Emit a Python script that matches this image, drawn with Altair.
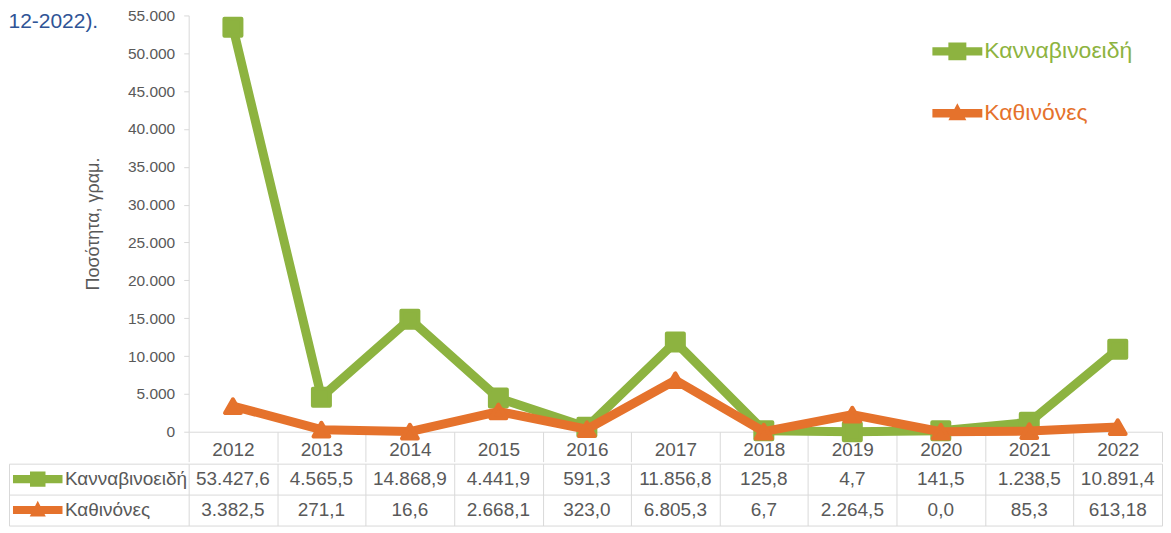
import altair as alt
import pandas as pd

years = ["2012", "2013", "2014", "2015", "2016", "2017", "2018", "2019", "2020", "2021", "2022"]
series_names = ["Κανναβινοειδή", "Καθινόνες"]
cannabis = [53427.6, 4565.5, 14868.9, 4441.9, 591.3, 11856.8, 125.8, 4.7, 141.5, 1238.5, 10891.4]
cathinones = [3382.5, 271.1, 16.6, 2668.1, 323.0, 6805.3, 6.7, 2264.5, 0.0, 85.3, 613.18]
cannabis_text = ["53.427,6", "4.565,5", "14.868,9", "4.441,9", "591,3", "11.856,8",
                 "125,8", "4,7", "141,5", "1.238,5", "10.891,4"]
cathinones_text = ["3.382,5", "271,1", "16,6", "2.668,1", "323,0", "6.805,3",
                   "6,7", "2.264,5", "0,0", "85,3", "613,18"]
y_ticks = list(range(0, 55001, 5000))
colors = ["#8DB340", "#E5722C"]
caption = "12-2022)."

rows = []
for name, vals, texts in [(series_names[0], cannabis, cannabis_text),
                          (series_names[1], cathinones, cathinones_text)]:
    for yr, v, t in zip(years, vals, texts):
        rows.append({"year": yr, "series": name, "value": v, "label": t})
df = pd.DataFrame(rows)

W = 975
H = 417
HEADER = 30
ROW = 31
FONT = "Liberation Sans"
TXT = "#595959"
GRID = "#D9D9D9"

# legend symbols: line with marker (custom SVG paths)
top_paths = [
    "M-1,-0.17H1V0.17H-1Z M-0.36,-0.36H0.36V0.36H-0.36Z",
    "M-1,-0.17H1V0.17H-1Z M0,-0.4L0.36,0.28H-0.36Z",
]
tab_paths = [
    "M-1.6,-0.26H1.6V0.26H-1.6Z M-0.5,-0.5H0.5V0.5H-0.5Z",
    "M-1.6,-0.26H1.6V0.26H-1.6Z M0,-0.6L0.52,0.42H-0.52Z",
]

label_color_expr = alt.ExprRef(
    expr=f"datum.value == '{series_names[1]}' ? '{colors[1]}' : '{colors[0]}'"
)

top_legend = alt.Legend(
    title=None, orient="none", legendX=745, legendY=11, direction="vertical",
    symbolSize=2500, symbolOpacity=1, symbolStrokeWidth=0,
    labelFontSize=23, labelFont=FONT, labelColor=label_color_expr,
    labelOffset=2, rowPadding=25, padding=0,
)
tab_legend = alt.Legend(
    title=None, orient="none", legendX=-166.7, legendY=0, direction="vertical",
    symbolSize=ROW * ROW, symbolOpacity=1, symbolStrokeWidth=0,
    labelFontSize=19, labelFont=FONT, labelColor=TXT,
    labelOffset=11.7, rowPadding=5, padding=0,
)

band = alt.Scale(type="band", paddingInner=0, paddingOuter=0)

x_top = alt.X(
    "year:O", sort=years, scale=band,
    axis=alt.Axis(title=None, labelAngle=0, labelFontSize=19, labelColor=TXT, labelFont=FONT,
                  domain=True, domainColor=GRID, ticks=True, tickBand="extent", tickSize=HEADER,
                  tickColor=GRID, labelPadding=9 - HEADER, grid=False),
)
y_top = alt.Y(
    "value:Q", scale=alt.Scale(domain=[0, 55000], nice=False),
    axis=alt.Axis(values=y_ticks, title="Ποσότητα, γραμ.", titleFontSize=18, titleFontWeight="normal",
                  titleColor=TXT, titleFont=FONT, titlePadding=25,
                  labelExpr="replace(format(datum.value, ',d'), regexp(',', 'g'), '.')",
                  labelFontSize=15.5, labelColor=TXT, labelFont=FONT, labelPadding=9,
                  domain=True, domainColor=GRID, ticks=True, tickColor=GRID, tickSize=5, grid=False),
)

base = alt.Chart(df)

top_legend_layer = base.mark_point(filled=True, opacity=0).encode(
    x=x_top, y=y_top,
    color=alt.Color("series:N", scale=alt.Scale(domain=series_names, range=colors), legend=top_legend),
    shape=alt.Shape("series:N", scale=alt.Scale(domain=series_names, range=top_paths), legend=top_legend),
)

layers = [top_legend_layer]
for name, col, shp, sz in [(series_names[0], colors[0], "square", 290),
                           (series_names[1], colors[1], "triangle-up", 250)]:
    sub = base.transform_filter(alt.datum.series == name)
    layers.append(sub.mark_line(color=col, strokeWidth=9, strokeJoin="round", strokeCap="round")
                  .encode(x=x_top, y=y_top))
    layers.append(sub.mark_point(filled=True, shape=shp, size=sz, color=col, stroke=col,
                                 strokeWidth=4, strokeJoin="round", opacity=1)
                  .encode(x=x_top, y=y_top))

top = alt.layer(*layers).properties(width=W, height=H)

# ---- data table ----
x_tab = alt.X(
    "year:O", sort=years, scale=band,
    axis=alt.Axis(title=None, labels=False, ticks=False, domain=False, grid=True,
                  tickBand="extent", gridColor=GRID),
)
y_scale_tab = alt.Scale(type="band", domain=series_names, paddingInner=0, paddingOuter=0)
y_tab_text = alt.Y(
    "series:N", sort=series_names, scale=y_scale_tab,
    axis=alt.Axis(title=None, orient="left", labels=False, domain=False, ticks=True, tickSize=180,
                  tickColor=GRID, tickBand="extent", grid=True, gridColor=GRID),
)
y_tab_border = alt.Y(
    "series:N", sort=series_names, scale=y_scale_tab,
    axis=alt.Axis(title=None, orient="left", offset=180, labels=False, ticks=False, grid=False,
                  domain=True, domainColor=GRID),
)

tab_text = base.mark_text(fontSize=19, color=TXT, font=FONT, baseline="middle").encode(
    x=x_tab, y=y_tab_text, text="label:N"
)
tab_legend_layer = base.mark_point(filled=True, opacity=0).encode(
    x=x_tab, y=y_tab_border,
    color=alt.Color("series:N", scale=alt.Scale(domain=series_names, range=colors), legend=tab_legend),
    shape=alt.Shape("series:N", scale=alt.Scale(domain=series_names, range=tab_paths), legend=tab_legend),
)
table = alt.layer(tab_text, tab_legend_layer).resolve_axis(y="independent").properties(
    width=W, height=2 * ROW
)

chart = (
    alt.vconcat(top, table, spacing=0)
    .resolve_scale(color="independent", shape="independent")
    .resolve_legend(color="independent", shape="independent")
    .properties(
        title=alt.TitleParams(caption, anchor="start", frame="bounds", fontSize=21, font=FONT,
                              fontWeight="normal", color="#2F5496", baseline="top", offset=-24),
        padding=0,
    )
    .configure_view(stroke=None)
)

chart.save("out.html", embed_options={"renderer": "svg", "actions": False})
